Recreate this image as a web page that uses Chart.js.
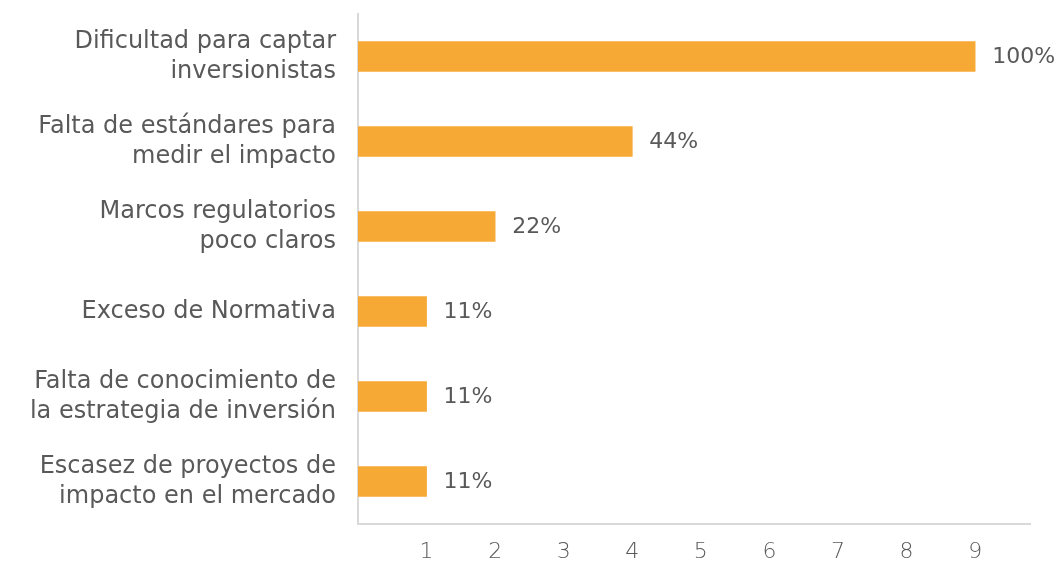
<!DOCTYPE html>
<html>
<head>
<meta charset="utf-8">
<script src="https://cdn.jsdelivr.net/npm/chart.js@4"></script>
<style>
  html, body { margin: 0; padding: 0; background: #fff; }
  #wrap { width: 1061px; height: 561px; position: relative; }
</style>
</head>
<body>
<div id="wrap"><canvas id="grafico"></canvas></div>
<script>
const categorias = [
    ['Dificultad para captar', 'inversionistas'],
    ['Falta de estándares para', 'medir el impacto'],
    ['Marcos regulatorios', 'poco claros'],
    ['Exceso de Normativa'],
    ['Falta de conocimiento de', 'la estrategia de inversión'],
    ['Escasez de proyectos de', 'impacto en el mercado']
];
const valores = [9, 4, 2, 1, 1, 1];
const porcentajes = ['100%', '44%', '22%', '11%', '11%', '11%'];
const ticksX = [1, 2, 3, 4, 5, 6, 7, 8, 9];

const fuente = '"DejaVu Sans", sans-serif';
const gris = '#595959';

// etiquetas de porcentaje al final de cada barra
const etiquetas = {
    id: 'etiquetas',
    afterDatasetsDraw(chart) {
        const ctx = chart.ctx;
        const meta = chart.getDatasetMeta(0);
        ctx.save();
        ctx.font = '22px ' + fuente;
        ctx.fillStyle = gris;
        ctx.textAlign = 'left';
        ctx.textBaseline = 'middle';
        meta.data.forEach(function (bar, i) {
            ctx.fillText(porcentajes[i], bar.x + 17, bar.y + 1);
        });
        ctx.restore();
    }
};

new Chart(document.getElementById('grafico'), {
    type: 'bar',
    data: {
        labels: categorias,
        datasets: [{
            data: valores,
            backgroundColor: '#F7A935',
            barThickness: 30
        }]
    },
    options: {
        indexAxis: 'y',
        responsive: true,
        maintainAspectRatio: false,
        animation: false,
        layout: { padding: { top: 14, right: 31, bottom: 0, left: 0 } },
        plugins: {
            legend: { display: false },
            tooltip: { enabled: false }
        },
        scales: {
            x: {
                min: 0,
                max: 9.8,
                afterBuildTicks(scale) {
                    scale.ticks = ticksX.map(v => ({ value: v }));
                },
                afterFit(scale) {
                    scale.height = 37;
                    scale.paddingLeft = 0;
                    scale.paddingRight = 0;
                },
                grid: { display: false, drawTicks: false },
                border: { color: '#d9d9d9', width: 2 },
                ticks: {
                    color: gris,
                    padding: 15,
                    font: { family: fuente, size: 22, weight: 300 }
                }
            },
            y: {
                afterFit(scale) {
                    scale.width = 358;
                    scale.paddingTop = 0;
                    scale.paddingBottom = 0;
                },
                grid: { display: false, drawTicks: false },
                border: { color: '#d9d9d9', width: 2 },
                ticks: {
                    color: gris,
                    padding: 22,
                    font: { family: fuente, size: 24, lineHeight: 1.25 }
                }
            }
        }
    },
    plugins: [etiquetas]
});
</script>
</body>
</html>
